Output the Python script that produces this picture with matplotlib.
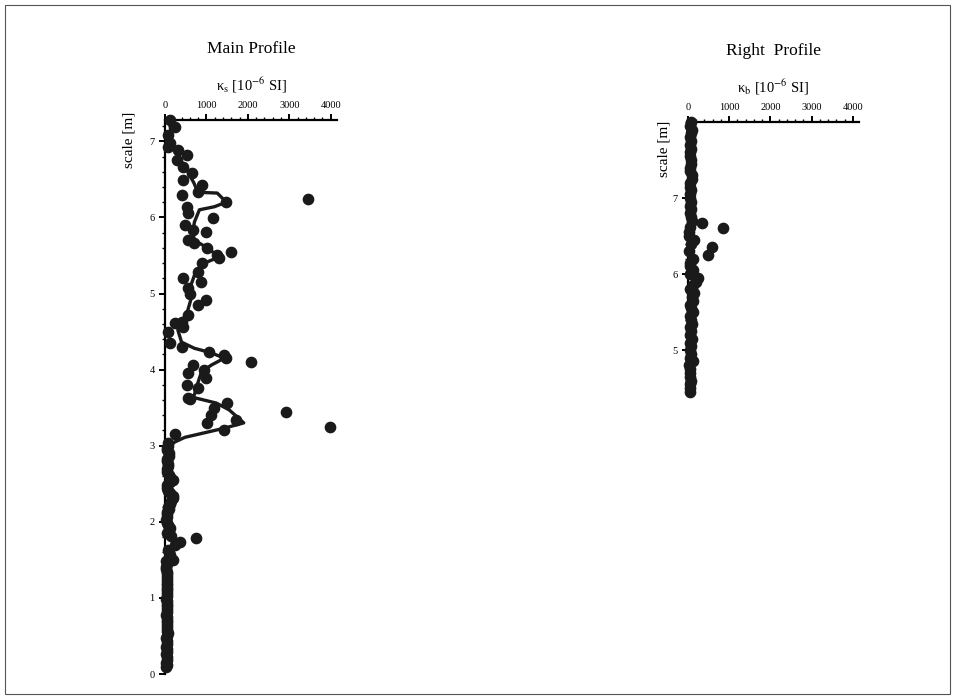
import matplotlib
matplotlib.use("Agg")
import matplotlib.pyplot as plt
from matplotlib.patches import Rectangle
from matplotlib.ticker import MultipleLocator

plt.rcParams['font.family'] = ['Liberation Serif', 'DejaVu Serif']
plt.rcParams['mathtext.fontset'] = 'stix'

# ---------------- main profile: measured points (depth m, kappa 1e-6 SI) -------------
main_depth = [0.09, 0.12, 0.15, 0.19, 0.22, 0.26, 0.29, 0.33, 0.36, 0.40, 0.43, 0.47,
              0.50, 0.54, 0.57, 0.61, 0.64, 0.68, 0.71, 0.75, 0.78, 0.82, 0.85, 0.89,
              0.92, 0.96, 0.99, 1.03, 1.06, 1.10, 1.13, 1.17, 1.20, 1.24, 1.27, 1.31,
              1.34, 1.38, 1.41, 1.45, 1.48, 1.50, 1.56, 1.60, 1.63,
              1.70, 1.73, 1.79, 1.82, 1.85, 1.89, 1.92, 1.96, 1.99, 2.03, 2.06, 2.10,
              2.13, 2.17, 2.20, 2.24, 2.27, 2.31, 2.34, 2.38, 2.41, 2.45, 2.48, 2.52,
              2.55, 2.59, 2.62, 2.66, 2.69, 2.73, 2.76, 2.80, 2.83, 2.87, 2.90, 2.94,
              2.97, 3.00, 3.04,
              3.15, 3.20, 3.24, 3.30, 3.34, 3.40, 3.44, 3.50, 3.56, 3.61, 3.63, 3.76,
              3.80, 3.89, 3.96, 4.00, 4.06, 4.10, 4.15, 4.19, 4.23, 4.30, 4.35, 4.49,
              4.56, 4.61, 4.62, 4.72, 4.85, 4.91, 5.00, 5.07, 5.15, 5.20, 5.28, 5.40,
              5.47, 5.50, 5.55, 5.60, 5.66, 5.70, 5.81, 5.84, 5.90, 5.99, 6.06, 6.14,
              6.20, 6.24, 6.29, 6.33, 6.43, 6.49, 6.58, 6.66, 6.75, 6.82, 6.89, 6.93,
              6.98, 7.08, 7.19, 7.28]
main_kappa = [20, 40, 30, 60, 50, 30, 40, 50, 30, 60, 50, 30,
              40, 70, 60, 40, 50, 60, 40, 50, 30, 60, 50, 40,
              40, 60, 30, 50, 40, 60, 50, 40, 40, 50, 60, 40,
              50, 30, 30, 50, 20, 190, 120, 90, 70,
              240, 360, 760, 150, 60, 90, 120, 80, 50, 30, 40, 60,
              60, 90, 80, 120, 150, 200, 190, 110, 80, 50, 60, 130,
              190, 120, 100, 60, 50, 70, 80, 40, 60, 90, 100, 40,
              50, 70, 80,
              240, 1430, 3980, 1020, 1710, 1120, 2930, 1190, 1500, 600, 550, 790,
              520, 1000, 550, 950, 670, 2070, 1480, 1430, 1070, 400, 120, 70,
              430, 240, 400, 550, 790, 1000, 600, 550, 880, 430, 790, 900,
              1310, 1260, 1600, 1020, 710, 550, 1000, 670, 480, 1170, 550, 520,
              1480, 3450, 400, 790, 900, 430, 640, 430, 290, 520, 310, 70,
              120, 70, 240, 120]

# main profile: smoothed curve
main_line_depth = [0.10, 0.50, 1.00, 1.40, 1.55, 1.65, 1.73, 1.80, 1.88, 2.00, 2.30, 2.60,
                   2.97, 3.05, 3.11, 3.23, 3.30, 3.47, 3.56, 3.64, 3.67, 3.82, 3.97, 4.06,
                   4.15, 4.22, 4.28, 4.36, 4.52, 4.65, 4.78, 4.95, 5.07, 5.24, 5.40, 5.48,
                   5.50, 5.60, 5.70, 5.80, 5.94, 6.10, 6.14, 6.20, 6.32, 6.33, 6.45, 6.60,
                   6.75, 6.90, 7.00, 7.10, 7.28]
main_line_kappa = [30, 40, 40, 40, 80, 200, 320, 200, 80, 60, 90, 80,
                   60, 240, 480, 1430, 1900, 1550, 1240, 640, 710, 790, 880, 1120,
                   1430, 1120, 710, 400, 310, 430, 550, 640, 600, 710, 950, 1310,
                   1260, 1020, 710, 670, 710, 830, 1190, 1480, 1260, 790, 700, 550,
                   380, 250, 150, 150, 100]

# ---------------- right profile --------------------------------------------------------
right_depth = [4.45, 4.50, 4.55, 4.60, 4.65, 4.70, 4.75, 4.80, 4.86, 4.90, 4.95, 5.00,
               5.05, 5.10, 5.15, 5.20, 5.25, 5.30, 5.35, 5.40, 5.45, 5.50, 5.55, 5.60,
               5.65, 5.70, 5.75, 5.80, 5.85, 5.90, 5.95, 6.00, 6.05, 6.10, 6.15, 6.20,
               6.25, 6.30, 6.36, 6.40, 6.45, 6.50, 6.55, 6.60, 6.62, 6.67, 6.70, 6.75,
               6.80, 6.85, 6.90, 6.95, 7.00, 7.05, 7.10, 7.15, 7.20, 7.25, 7.30, 7.35,
               7.40, 7.45, 7.50, 7.55, 7.60, 7.65, 7.70, 7.75, 7.80, 7.85, 7.90, 7.95,
               8.00]
right_kappa = [40, 60, 50, 70, 40, 60, 50, 30, 120, 40, 80, 60,
               70, 50, 90, 60, 80, 50, 100, 70, 60, 110, 80, 50,
               120, 90, 150, 60, 120, 200, 240, 50, 130, 60, 40, 110,
               480, 30, 575, 80, 140, 20, 30, 840, 60, 330, 90, 70,
               60, 80, 50, 70, 60, 40, 80, 60, 50, 90, 100, 60,
               50, 80, 70, 60, 50, 70, 60, 80, 50, 70, 90, 60,
               80]

right_line_depth = [4.45, 5.00, 5.50, 5.80, 5.90, 6.00, 6.20, 6.30, 6.45, 6.55, 6.60, 6.70,
                    7.00, 7.50, 8.00]
right_line_kappa = [50, 60, 70, 40, 150, 70, 100, 40, 150, 30, 150, 80,
                    60, 60, 60]

xticks = [0, 1000, 2000, 3000, 4000]


def style_axis(ax, ylim, ytick_major, sub):
    ax.set_xlim(0, 4150)
    ax.set_ylim(*ylim)
    ax.xaxis.tick_top()
    ax.xaxis.set_label_position('top')
    ax.set_xticks(xticks)
    ax.xaxis.set_minor_locator(MultipleLocator(200))
    ax.set_yticks(ytick_major)
    ax.yaxis.set_minor_locator(MultipleLocator(0.2))
    for s in ['right', 'bottom']:
        ax.spines[s].set_visible(False)
    for s in ['left', 'top']:
        ax.spines[s].set_linewidth(1.6)
    ax.tick_params(which='major', direction='out', length=4.5, width=1.4, labelsize=7.5, pad=3)
    ax.tick_params(which='minor', direction='out', length=2.5, width=1.0)
    ax.set_xlabel('κ$_{\\mathrm{%s}}$ [10$^{-6}$ SI]' % sub, fontsize=10.5, labelpad=7)
    ax.set_facecolor('none')


fig = plt.figure(figsize=(9.55, 6.99), dpi=100)
fig.patches.append(Rectangle((5 / 955, 5 / 699), 945 / 955, 689 / 699, transform=fig.transFigure,
                             fill=False, edgecolor='#555555', linewidth=0.8))

# main profile
ax1 = fig.add_axes([165 / 955, 1 - 674 / 699, 172 / 955, 554 / 699])
ax1.plot(main_line_kappa, main_line_depth, color='#1a1a1a', lw=2.4, zorder=2)
ax1.plot(main_kappa, main_depth, 'o', color='#1a1a1a', ms=7.4, zorder=3, clip_on=False)
style_axis(ax1, (0, 7.28), [0, 1, 2, 3, 4, 5, 6, 7], 's')
ax1.set_ylabel('scale [m]', fontsize=11)
ax1.yaxis.set_label_coords(-0.17, 0.965)
ax1.set_title('Main Profile', fontsize=12.5, pad=48)

# right profile
ax2 = fig.add_axes([688 / 955, 1 - 395 / 699, 171 / 955, 273 / 699])
ax2.plot(right_line_kappa, right_line_depth, color='#1a1a1a', lw=2.4, zorder=2)
ax2.plot(right_kappa, right_depth, 'o', color='#1a1a1a', ms=7.4, zorder=3, clip_on=False)
style_axis(ax2, (4.41, 8.0), [5, 6, 7], 'b')
ax2.set_ylabel('scale [m]', fontsize=11)
ax2.yaxis.set_label_coords(-0.10, 0.9)
ax2.set_title('Right  Profile', fontsize=12.5, pad=48)

fig.savefig('out.png', dpi=100)
